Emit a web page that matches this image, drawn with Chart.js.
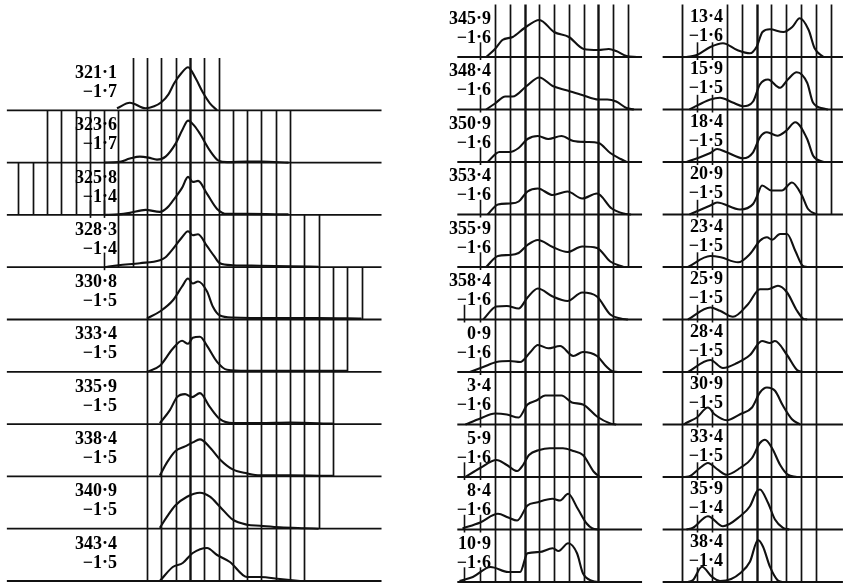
<!DOCTYPE html>
<html>
<head>
<meta charset="utf-8">
<script src="https://cdn.jsdelivr.net/npm/chart.js@4.4.1/dist/chart.umd.min.js"></script>
<style>
    body { margin: 0; background: #fff; }
    canvas { position: absolute; top: 0; }
</style>
</head>
<body>
<canvas id="left-chart" width="430" height="583" style="left:0px"></canvas>
<canvas id="middle-chart" width="230" height="583" style="left:430px"></canvas>
<canvas id="right-chart" width="183" height="583" style="left:660px"></canvas>
<script>
// Profile labels: longitude (top line) and latitude (second line).
var leftLongitudes = ["321·1", "323·6", "325·8", "328·3", "330·8", "333·4", "335·9", "338·4", "340·9", "343·4"];
var leftLatitudes = ["−1·7", "−1·7", "−1·4", "−1·4", "−1·5", "−1·5", "−1·5", "−1·5", "−1·5", "−1·5"];
var middleLongitudes = ["345·9", "348·4", "350·9", "353·4", "355·9", "358·4", "0·9", "3·4", "5·9", "8·4", "10·9"];
var middleLatitudes = ["−1·6", "−1·6", "−1·6", "−1·6", "−1·6", "−1·6", "−1·6", "−1·6", "−1·6", "−1·6", "−1·6"];
var rightLongitudes = ["13·4", "15·9", "18·4", "20·9", "23·4", "25·9", "28·4", "30·9", "33·4", "35·9", "38·4"];
var rightLatitudes = ["−1·6", "−1·5", "−1·5", "−1·5", "−1·5", "−1·5", "−1·5", "−1·5", "−1·5", "−1·4", "−1·4"];

// Profiles: [channel, intensity] pairs, one list per label.
var leftProfiles = [
    [[7.9, 2], [8.8, 7.5], [9.9, 2], [10.5, 4], [11, 8], [11.5, 16], [11.9, 27], [12.4, 37], [12.87, 43], [13.4, 32], [13.9, 18], [14.4, 7], [14.9, 0]],
    [[7, 0], [8, 0.5], [8.8, 4], [9.5, 6], [10.1, 5], [10.7, 3], [11.3, 6], [12, 19], [12.45, 32], [12.87, 42], [13.3, 37], [13.7, 29], [14.4, 12], [15, 2], [15.6, 0.5], [17, 1], [18, 1], [19.9, 0]],
    [[7, 0], [8, 0.5], [8.8, 2], [9.9, 5], [10.9, 3], [11.4, 7], [11.8, 14], [12.45, 27], [12.87, 38], [13.2, 33], [13.57, 34], [14.2, 21], [14.9, 6], [15.6, 1], [17, 1], [19.9, 0.5]],
    [[7, 0], [8, 2], [9.5, 4], [10.9, 7], [11.3, 10], [11.8, 18], [12.45, 30], [12.87, 36], [13.2, 32], [13.57, 33], [14.2, 21], [14.7, 11], [15.1, 4], [16, 2], [17.9, 1.5], [20, 1], [22, 0.5]],
    [[10, 1], [10.9, 8], [11.8, 19], [12.45, 33], [12.87, 41], [13.2, 36], [13.57, 38], [14.2, 28], [14.6, 13], [15.1, 4], [16, 2], [19, 1.5], [22, 1.5], [25, 1]],
    [[10, 0], [10.9, 6], [11.8, 23], [12.45, 31], [12.87, 28], [13.2, 34], [13.7, 35], [14.2, 26], [14.9, 10], [15.6, 2], [17, 1], [20, 1], [24, 1]],
    [[10.9, 1], [11.6, 14], [12.1, 27], [12.66, 30], [13.15, 27], [13.7, 31], [14.4, 17], [15.1, 5], [16, 1], [17.9, 1], [20, 1.5], [23, 0.5]],
    [[10.9, 1], [11.4, 14], [11.96, 25], [12.66, 30], [13.2, 34], [13.7, 37], [14.4, 29], [15.1, 17], [16, 7], [17, 3], [17.9, 1], [20, 1], [23, 0.5]],
    [[10.9, 1], [11.4, 12], [11.96, 23], [12.8, 32], [13.7, 36], [14.4, 32], [15.1, 22], [16, 9], [17, 4], [17.9, 3], [19.3, 1.5], [21, 0.5], [22, 0]],
    [[10.9, 0], [11.8, 14], [12.5, 18], [13.2, 28], [14.2, 33], [14.9, 26], [15.8, 19], [17, 4], [17.9, 4], [19.3, 2], [20.7, 0]]
];
var middleProfiles = [
    [[-0.6, 0], [0, 8], [0.5, 17], [1.2, 20], [2, 29], [3, 37], [4, 25], [5, 20], [6, 8], [7, 7], [7.7, 8], [8.2, 6], [8.9, 1], [9.6, 0]],
    [[-0.6, 0], [0, 6], [0.7, 13], [1.2, 13], [2.1, 23], [3, 32], [3.9, 23.5], [4.9, 19], [5.9, 14.5], [7, 10], [7.6, 10], [8.2, 8], [8.9, 1.5], [9.4, 0]],
    [[-0.5, 0], [0.3, 10], [1, 10], [1.6, 14], [2.2, 23], [2.9, 26], [3.6, 23], [4.5, 26], [5.3, 21], [6.2, 20], [7, 19], [7.8, 9], [8.5, 3], [8.9, 0]],
    [[-0.5, 0], [0.2, 10], [1, 11], [1.6, 13], [2.2, 23], [2.9, 26], [3.9, 19.5], [4.9, 23], [5.9, 16], [6.9, 21], [7.9, 6], [8.7, 1], [9.2, 0]],
    [[-0.6, 0], [0.2, 11], [1, 12], [1.6, 14], [2.2, 22], [2.9, 27], [3.9, 20], [4.9, 15], [5.9, 20.5], [6.9, 19], [7.8, 5.5], [8.7, 0]],
    [[-0.8, 0], [0.1, 13], [0.8, 13.5], [1.6, 11], [2.2, 22], [2.9, 31], [3.9, 23], [4.9, 18.5], [5.9, 27], [6.9, 23], [7.8, 5], [8.5, 1], [9, 0]],
    [[-1.7, 0], [-0.8, 5], [0.1, 10], [1, 11], [1.7, 10], [2.4, 20], [2.9, 27], [3.6, 23.7], [4.4, 26], [5.3, 16], [5.95, 20], [6.9, 16], [7.5, 6], [7.9, 1], [8.3, 0]],
    [[-2, 0], [-1, 6], [0, 11], [0.8, 10], [1.6, 7], [2.2, 20], [2.8, 24], [3.4, 29], [4.5, 29], [5.2, 22], [5.95, 20], [6.9, 8], [7.8, 1], [8.2, 0]],
    [[-2, 0], [-1, 9], [0.1, 17], [0.8, 12], [1.5, 6], [1.9, 12], [2.3, 22], [3, 27], [3.7, 28.7], [4.6, 28.7], [5.3, 26], [5.95, 22], [6.7, 5], [7.1, 0]],
    [[-2.2, 1], [-1, 7], [0.2, 15.7], [0.9, 12], [1.5, 9], [2.2, 24], [2.8, 27], [3.9, 30.7], [4.4, 29], [4.95, 35.7], [5.6, 20.7], [6.2, 6], [6.6, 1], [7, 0]],
    [[-2.4, 1], [-1.5, 5], [-0.3, 15], [0.9, 10], [1.7, 10], [2.2, 28.7], [3, 30], [3.9, 33.7], [4.3, 31], [4.95, 38.7], [5.55, 28.7], [5.95, 8.7], [6.6, 1], [7, 0]]
];
var rightProfiles = [
    [[0.3, 0], [1, 2], [1.9, 10], [2.75, 13.7], [3.7, 7], [4.56, 3.7], [5, 10], [5.4, 25], [5.9, 27.7], [6.8, 25], [7.4, 30], [7.9, 38.7], [8.5, 27], [8.9, 8.7], [9.5, 0]],
    [[0.5, 0], [1.9, 10], [2.55, 11.7], [3.4, 7], [4.1, 3.3], [4.77, 8], [5.23, 25], [5.77, 30], [6.58, 21.7], [7.1, 30], [7.7, 37.3], [8.4, 26.7], [8.8, 6.7], [9.5, 1], [9.8, 0]],
    [[0.3, 0], [1.9, 9], [2.35, 13], [3, 9.7], [4.1, 3.7], [4.77, 9.7], [5.23, 24.7], [5.7, 29.7], [6.4, 26.3], [7, 31.3], [7.6, 39.7], [8.4, 23], [8.8, 6.3], [9.5, 0]],
    [[0.5, 0], [1.9, 9], [2.35, 12], [3.9, 5], [4.77, 10.5], [5, 17], [5.37, 29], [6, 24], [6.7, 24], [7.38, 32], [8.05, 19], [8.46, 5.5], [9.06, 0]],
    [[0.4, 0], [1.9, 11], [2.6, 9.7], [3.76, 4.7], [4.56, 13], [5.23, 26.3], [5.7, 29.7], [6.04, 27.3], [6.58, 33], [7.05, 33], [7.6, 16.3], [8.1, 1.3], [8.4, 0]],
    [[0.4, 0], [1.9, 12], [2.55, 8.7], [3.42, 2.7], [4.43, 15.3], [5.23, 30.3], [5.77, 30.3], [6.44, 33.7], [7.05, 27], [7.72, 8.7], [8.12, 1], [8.4, 0]],
    [[0.4, 0], [1.9, 12], [2.75, 4], [3.7, 9], [4.56, 17], [5.37, 31], [5.9, 29], [6.24, 31], [7.05, 17], [7.72, 2], [8.1, 0]],
    [[0.1, 0], [0.34, 2], [1, 7], [1.74, 17], [2.2, 10], [3, 4.3], [3.9, 10.3], [4.7, 17], [5.23, 32], [5.7, 37], [6.24, 33.7], [6.78, 18.7], [7.38, 5.3], [7.92, 0]],
    [[0.2, 0], [0.55, 1], [1.2, 9], [1.74, 14], [2.4, 7.3], [3, 2.3], [3.9, 9], [4.7, 19], [5.23, 34], [5.57, 37.3], [6.04, 29], [6.58, 12.3], [7.1, 2.3], [7.7, 0]],
    [[0.3, 0], [0.74, 1.7], [1.74, 13.3], [2.75, 3.3], [3.9, 13.3], [4.56, 23.3], [5.03, 38.3], [5.23, 40], [5.77, 26.7], [6.24, 10], [6.78, 1.7], [7.2, 0]],
    [[0.4, 0], [0.74, 2], [1.34, 15.3], [2, 5.3], [2.55, 1], [3.3, 3], [3.9, 8.7], [4.56, 20.3], [5.1, 42], [5.44, 35.3], [5.9, 15.3], [6.4, 2], [6.7, 0]]
];

// Channel markers (vertical rules) drawn for each profile: first and last channel.
var leftGridFrom = [9, 3, 1, 8, 10, 10, 10, 10, 10, 10];
var leftGridTo = [15, 20, 20, 22, 25, 24, 23, 23, 22, 21];
var middleGridFrom = [0, 0, 0, 0, 0, 0, 0, 0, 0, 0, 0];
var middleGridTo = [9, 9, 9, 9, 9, 8, 8, 8, 7, 7, 7];
var rightGridFrom = [3, 3, 3, 3, 3, 3, 3, 3, 3, 3, 3];
var rightGridTo = [10, 10, 10, 10, 9, 9, 9, 9, 9, 9, 9];

function drawFrame(chart, col) {
    var ctx = chart.ctx;
    var xs = chart.scales.x, ys = chart.scales.y;
    var n = col.longitudes.length;
    ctx.save();
    ctx.strokeStyle = '#111';
    ctx.lineCap = 'butt';
    for (var r = 0; r < n; r++) {
        var base = (n - 1 - r) * col.step;
        var yb = ys.getPixelForValue(base);
        var yt = ys.getPixelForValue(base + col.step);
        // base line
        ctx.lineWidth = 1.8;
        ctx.beginPath();
        ctx.moveTo(xs.getPixelForValue(col.baseFrom), yb);
        ctx.lineTo(xs.getPixelForValue(col.baseTo), yb);
        ctx.stroke();
        // vertical channel rules
        for (var k = col.gridFrom[r]; k <= col.gridTo[r]; k++) {
            var px = Math.round(xs.getPixelForValue(k)) + 0.5;
            ctx.lineWidth = col.bold.indexOf(k) >= 0 ? 2.4 : 1.7;
            ctx.beginPath();
            ctx.moveTo(px, yt);
            ctx.lineTo(px, yb);
            ctx.stroke();
        }
        // short ticks near the base line
        ctx.lineWidth = 1.6;
        col.ticks.forEach(function (t) {
            if (t[0] !== r) return;
            var px = Math.round(xs.getPixelForValue(t[1])) + 0.5;
            ctx.beginPath();
            ctx.moveTo(px, ys.getPixelForValue(base + col.step * 0.28));
            ctx.lineTo(px, yb + 3);
            ctx.stroke();
        });
    }
    // long rules crossing several profiles
    col.extra.forEach(function (e) {
        var px = Math.round(xs.getPixelForValue(e[0])) + 0.5;
        ctx.lineWidth = 1.8;
        ctx.beginPath();
        ctx.moveTo(px, ys.getPixelForValue((n - e[1]) * col.step));
        ctx.lineTo(px, ys.getPixelForValue((n - 1 - e[2]) * col.step));
        ctx.stroke();
    });
    // labels
    ctx.fillStyle = '#000';
    ctx.font = 'bold 18px "Liberation Serif"';
    ctx.textAlign = 'right';
    ctx.textBaseline = 'middle';
    var lx = xs.getPixelForValue(col.labelAt);
    for (var i = 0; i < n; i++) {
        var b = (n - 1 - i) * col.step;
        ctx.fillText(col.longitudes[i], lx, ys.getPixelForValue(b + col.line1));
        ctx.fillText(col.latitudes[i], lx, ys.getPixelForValue(b + col.line2));
    }
    ctx.restore();
}

function BuildColumn(element, col) {
    var n = col.longitudes.length;
    var datasets = col.profiles.map(function (p, r) {
        var base = (n - 1 - r) * col.step;
        return {
            data: p.map(function (pt) { return { x: pt[0], y: base + pt[1] }; }),
            borderColor: '#111',
            borderWidth: 2.1,
            pointRadius: 0,
            fill: false,
            cubicInterpolationMode: 'monotone',
            clip: false
        };
    });
    return new Chart(document.getElementById(element), {
        type: 'line',
        data: { datasets: datasets },
        options: {
            responsive: false,
            animation: false,
            events: [],
            layout: { padding: 0 },
            plugins: { legend: { display: false }, tooltip: { enabled: false } },
            scales: {
                x: { type: 'linear', display: false, min: col.xMin, max: col.xMax },
                y: { type: 'linear', display: false, min: col.yMin, max: col.yMax }
            }
        },
        plugins: [{ id: 'frame', beforeDatasetsDraw: function (chart) { drawFrame(chart, col); } }]
    });
}

var leftChart = BuildColumn('left-chart', {
    longitudes: leftLongitudes, latitudes: leftLatitudes, profiles: leftProfiles,
    gridFrom: leftGridFrom, gridTo: leftGridTo,
    step: 52.3, xMin: -0.28, xMax: 29.79, yMin: -2, yMax: 581,
    baseFrom: 0.2, baseTo: 26.4, bold: [13],
    ticks: [[2, 6], [2, 7], [3, 7]], extra: [],
    labelAt: 7.9, line1: 37, line2: 18
});
var middleChart = BuildColumn('middle-chart', {
    longitudes: middleLongitudes, latitudes: middleLatitudes, profiles: middleProfiles,
    gridFrom: middleGridFrom, gridTo: middleGridTo,
    step: 52.5, xMin: -4.398, xMax: 11.164, yMin: -1, yMax: 582,
    baseFrom: -2.55, baseTo: 9.95, bold: [2, 7],
    ticks: [[0, -1], [1, -1], [2, -1], [3, -1], [4, -1], [5, -1], [5, -2.1], [6, -1], [7, -1],
            [8, -1], [8, -2.1], [9, -1], [9, -2.1], [10, -1], [10, -2.1]],
    extra: [],
    labelAt: -0.27, line1: 38, line2: 19
});
var rightChart = BuildColumn('right-chart', {
    longitudes: rightLongitudes, latitudes: rightLatitudes, profiles: rightProfiles,
    gridFrom: rightGridFrom, gridTo: rightGridTo,
    step: 52.5, xMin: -1.477, xMax: 10.805, yMin: -1, yMax: 582,
    baseFrom: -1.3, baseTo: 10.8, bold: [5],
    ticks: [[0, 1], [0, 2], [1, 1], [1, 2], [2, 1], [2, 2], [3, 1], [3, 2], [4, 1], [4, 2], [5, 1], [5, 2],
            [6, 1], [6, 2], [7, 1], [7, 2], [8, 1], [8, 2], [9, 1], [9, 2], [10, 1], [10, 2]],
    extra: [[0, 0, 10]],
    labelAt: 2.75, line1: 40, line2: 21
});
</script>
</body>
</html>
